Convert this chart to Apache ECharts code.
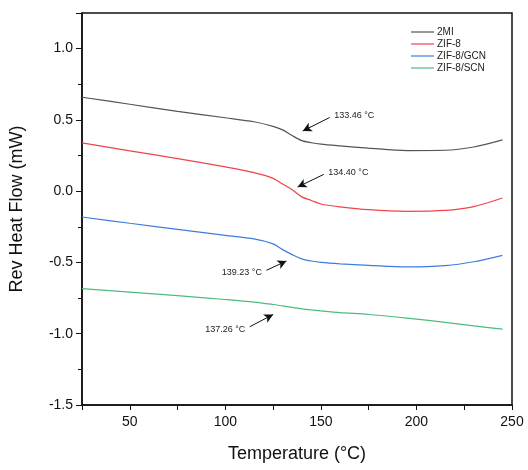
<!DOCTYPE html>
<html lang="en">
<head>
    <meta charset="UTF-8">
    <title>Rev Heat Flow</title>
    <script src="https://cdn.jsdelivr.net/npm/echarts@6/dist/echarts.min.js"></script>
    <style>
        html, body {
            margin: 0;
            height: 100%;
            background: #fff;
        }
    </style>
</head>
<body>
<div id="main" style="width: 528px;height: 470px"></div>
</body>
</html>
<script>
    // temperatures (°C) the curves were read at
    var temps = [25, 50, 75, 100, 115, 125, 130, 135, 140, 145, 150, 160, 175, 195, 215, 230, 245];

    var names = ['2MI', 'ZIF-8', 'ZIF-8/GCN', 'ZIF-8/SCN'];
    var flow2MI = [0.659, 0.61, 0.56, 0.515, 0.487, 0.455, 0.43, 0.39, 0.355, 0.34, 0.33, 0.318, 0.302, 0.285, 0.287, 0.31, 0.36];
    var flowZif = [0.339, 0.283, 0.229, 0.17, 0.13, 0.09, 0.05, 0.01, -0.04, -0.065, -0.09, -0.11, -0.13, -0.141, -0.135, -0.108, -0.048];
    var flowGcn = [-0.181, -0.225, -0.268, -0.31, -0.335, -0.37, -0.41, -0.445, -0.475, -0.49, -0.5, -0.51, -0.52, -0.531, -0.522, -0.495, -0.45];
    var flowScn = [-0.683, -0.708, -0.733, -0.76, -0.778, -0.795, -0.805, -0.815, -0.825, -0.833, -0.84, -0.852, -0.865, -0.89, -0.92, -0.945, -0.968];

    // annotation arrows: label, tail [T, v], tip [T, v]
    var noteText = ['133.46 °C', '134.40 °C', '139.23 °C', '137.26 °C'];
    var noteTail = [[154.6, 0.517], [151.5, 0.118], [121.5, -0.555], [112.8, -0.951]];
    var noteTip = [[140.5, 0.422], [137.8, 0.029], [132, -0.49], [125, -0.865]];

    var colors = ['#555555', '#f0444c', '#3d7ddf', '#4dbb7e'];
    var flows = [flow2MI, flowZif, flowGcn, flowScn];

    var myChart = echarts.init(document.getElementById('main'));

    var series = [];
    for (let i = 0; i < names.length; i++) {
        var pts = [];
        for (let j = 0; j < temps.length; j++) {
            pts.push([temps[j], flows[i][j]]);
        }
        series.push({
            name: names[i],
            type: 'line',
            symbol: 'none',
            smooth: 0.3,
            lineStyle: {color: colors[i], width: 1.2},
            itemStyle: {color: colors[i]},
            data: pts,
            markLine: {
                silent: true,
                symbol: ['none', 'arrow'],
                symbolSize: [7, 9],
                lineStyle: {color: '#111', width: 1, type: 'solid'},
                label: {
                    show: true,
                    position: 'start',
                    formatter: noteText[i],
                    color: '#222',
                    fontSize: 9,
                    fontFamily: 'Liberation Sans'
                },
                data: [[{coord: noteTail[i]}, {coord: noteTip[i]}]]
            }
        });
    }

    var option = {
        animation: false,
        backgroundColor: '#fff',
        textStyle: {fontFamily: 'Liberation Sans'},
        grid: {
            left: 82,
            right: 16,
            top: 13,
            bottom: 65,
            show: true,
            borderColor: '#111',
            borderWidth: 1.5
        },
        legend: {
            orient: 'vertical',
            left: 406,
            top: 22,
            icon: 'rect',
            itemWidth: 23,
            itemHeight: 1.2,
            itemGap: 2,
            textStyle: {fontSize: 10, color: '#222', padding: [0, 0, 0, -2]},
            data: names
        },
        xAxis: {
            type: 'value',
            min: 25,
            max: 250,
            interval: 25,
            name: 'Temperature (°C)',
            nameLocation: 'middle',
            nameGap: 40,
            nameTextStyle: {fontSize: 18, color: '#111'},
            axisLine: {onZero: false, lineStyle: {color: '#111', width: 1.5}},
            axisTick: {length: 5, lineStyle: {color: '#111'}},
            axisLabel: {
                fontSize: 14,
                color: '#111',
                margin: 10,
                formatter: function (v) {
                    return v % 50 === 0 ? String(v) : '';
                }
            },
            splitLine: {show: false}
        },
        yAxis: {
            type: 'value',
            min: -1.5,
            max: 1.25,
            interval: 0.5,
            name: 'Rev Heat Flow (mW)',
            nameLocation: 'middle',
            nameGap: 56,
            nameTextStyle: {fontSize: 18, color: '#111'},
            axisLine: {show: true, lineStyle: {color: '#111', width: 1.5}},
            axisTick: {show: true, length: 6, lineStyle: {color: '#111'}},
            minorTick: {show: true, splitNumber: 2, length: 4, lineStyle: {color: '#111'}},
            axisLabel: {
                fontSize: 14,
                color: '#111',
                margin: 9,
                showMaxLabel: false,
                formatter: function (v) {
                    return v.toFixed(1);
                }
            },
            splitLine: {show: false}
        },
        series: series
    };

    myChart.setOption(option);
</script>
